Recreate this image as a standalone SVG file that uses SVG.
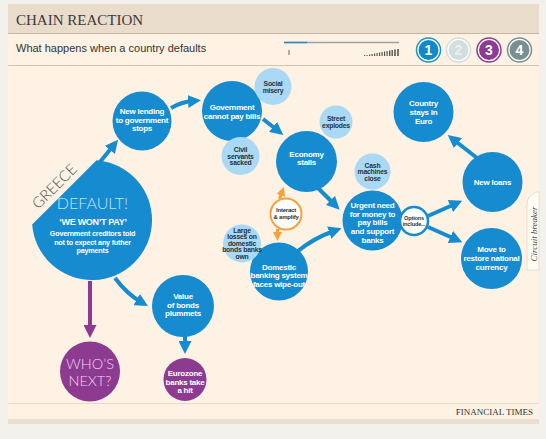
<svg xmlns="http://www.w3.org/2000/svg" width="546" height="439" viewBox="0 0 546 439">
<defs>
<style>
.bl{fill:#168bcf}
.lb{fill:#a9d9f4}
.pu{fill:#8d3b90}
.t{font-family:"Liberation Sans",Arial,sans-serif;font-weight:bold;text-anchor:middle}
.w{fill:#fff;font-size:8px;letter-spacing:-0.25px}
.d{fill:#27323c;font-size:6.8px;letter-spacing:-0.2px}
.lt{font-family:Lato,"Open Sans","Liberation Sans",sans-serif;font-weight:300;text-anchor:middle}
.cb{fill:none;stroke:#168bcf;stroke-width:4}
.cp{fill:none;stroke:#8d3b90;stroke-width:4}
.co{fill:none;stroke:#f6a23a;stroke-width:3}
.num{font-family:"Liberation Sans",Arial,sans-serif;font-weight:bold;font-size:14px;text-anchor:middle;fill:#fff}
</style>
<marker id="ab" markerUnits="userSpaceOnUse" markerWidth="13" markerHeight="13" viewBox="0 0 13 13" refX="5" refY="6.5" orient="auto"><path d="M0,0 L13,6.5 L0,13 z" fill="#168bcf"/></marker>
<marker id="ap" markerUnits="userSpaceOnUse" markerWidth="13" markerHeight="13" viewBox="0 0 13 13" refX="5" refY="6.5" orient="auto"><path d="M0,0 L13,6.5 L0,13 z" fill="#8d3b90"/></marker>
<marker id="ao" markerUnits="userSpaceOnUse" markerWidth="9" markerHeight="9" viewBox="0 0 9 9" refX="3" refY="4.5" orient="auto"><path d="M0,0 L9,4.5 L0,9 z" fill="#f6a23a"/></marker>
</defs>

<rect width="546" height="439" fill="#f3f1ec"/>
<rect x="8" y="419" width="531" height="5" fill="#e8dfd2"/>
<rect x="8" y="4" width="531" height="415" fill="#fdf2e3"/>
<rect x="8" y="4" width="531" height="29.5" fill="#e9dccb"/>
<line x1="8" y1="33.5" x2="539" y2="33.5" stroke="#c9b6a1"/>
<line x1="8" y1="65.5" x2="539" y2="65.5" stroke="#d8c5b0"/>
<line x1="8" y1="403.5" x2="539" y2="403.5" stroke="#ead9c5"/>

<text x="16" y="25" font-family="'Liberation Serif','Times New Roman',serif" font-size="15" fill="#3b3b3b">CHAIN REACTION</text>
<text x="16" y="52" font-family="'Liberation Sans',Arial,sans-serif" font-size="11" fill="#333">What happens when a country defaults</text>
<text x="533" y="415" font-family="'Liberation Serif','Times New Roman',serif" font-size="9" fill="#333" text-anchor="end">FINANCIAL TIMES</text>

<g id="progress">
<line x1="284" y1="42.5" x2="399" y2="42.5" stroke="#9aa3a8" stroke-width="1.5"/>
<line x1="284" y1="42.5" x2="307" y2="42.5" stroke="#2f87c4" stroke-width="1.5"/>
<rect x="288.5" y="50" width="1" height="5" fill="#666"/>
<g fill="#555">
<rect x="364" y="55" width="1.2" height="1"/>
<rect x="366.5" y="55" width="1.2" height="1"/>
<rect x="369" y="54.5" width="1.2" height="1.5"/>
<rect x="371.5" y="54" width="1.2" height="2"/>
<rect x="374" y="53.5" width="1.2" height="2.5"/>
<rect x="376.5" y="53" width="1.2" height="3"/>
<rect x="379" y="52.5" width="1.2" height="3.5"/>
<rect x="381.5" y="52" width="1.2" height="4"/>
<rect x="384" y="51.5" width="1.2" height="4.5"/>
<rect x="386.5" y="51" width="1.2" height="5"/>
<rect x="389" y="50.5" width="1.4" height="5.5"/>
<rect x="391.5" y="50" width="1.4" height="6"/>
<rect x="394.2" y="49.5" width="1.6" height="6.5"/>
<rect x="397.2" y="49" width="1.6" height="7"/>
</g>
</g>

<g id="steps">
<circle cx="428.5" cy="50" r="12" fill="#fff" stroke="#1596c4" stroke-width="1.5"/>
<circle cx="428.5" cy="50" r="10" fill="#1089c9"/>
<text class="num" x="428.5" y="55">1</text>
<circle cx="458.5" cy="50" r="12" fill="#fff" stroke="#d3dddd" stroke-width="1.5"/>
<circle cx="458.5" cy="50" r="10" fill="#d3dddd"/>
<text class="num" x="458.5" y="55" style="fill:#eaf0f0">2</text>
<circle cx="489" cy="50" r="12" fill="#fff" stroke="#8e3a93" stroke-width="1.5"/>
<circle cx="489" cy="50" r="10" fill="#8e3a93"/>
<text class="num" x="489" y="55">3</text>
<circle cx="519.5" cy="50" r="12" fill="#fff" stroke="#7a9090" stroke-width="1.5"/>
<circle cx="519.5" cy="50" r="10" fill="#7a9090"/>
<text class="num" x="519.5" y="55">4</text>
</g>

<g id="circuit-breaker">
<path d="M539,192 L536,192 Q527,196 527,204 L527,270 L539,270 Z" fill="#fffcf6" stroke="#e3d8c8" stroke-width="0.8"/>
<text transform="translate(537,234) rotate(-90)" font-family="'Liberation Serif','Times New Roman',serif" font-style="italic" font-size="9" fill="#444" text-anchor="middle">Circuit breaker</text>
</g>

<g id="connectors">
<path class="cb" d="M100,162 L113,146" marker-end="url(#ab)"/>
<path class="cb" d="M171,108 Q181,102 193,101" marker-end="url(#ab)"/>
<path class="cb" d="M263,119 L277,130" marker-end="url(#ab)"/>
<path class="cb" d="M317,187 L334,204" marker-end="url(#ab)"/>
<path class="cb" d="M298,251 Q314,238 334,231" marker-end="url(#ab)"/>
<path class="cb" d="M115,278 Q127,294 141,302" marker-end="url(#ab)"/>
<path class="cb" d="M185,336 L185,346" marker-end="url(#ab)"/>
<path class="cp" d="M90,281 L90,330" marker-end="url(#ap)"/>
<path class="cb" d="M428,216 L455,204" marker-end="url(#ab)"/>
<path class="cb" d="M428,227 L455,239" marker-end="url(#ab)"/>
<path class="cb" d="M477,158 L454,140" marker-end="url(#ab)"/>
<path class="co" d="M279.5,199 L281.8,192.6" marker-end="url(#ao)"/>
<path class="co" d="M277.5,229 L277.5,235" marker-end="url(#ao)"/>
</g>

<g id="n-default">
<path class="bl" d="M32.2,224.6 L96.6,160.2 A60,60 0 1 1 32.2,224.6 Z"/>
<text class="lt" transform="translate(58,190) rotate(-45)" font-size="15" fill="#555">GREECE</text>
<text class="lt" x="92.5" y="209" font-size="16" fill="#c2e4f7">DEFAULT!</text>
<text class="t" x="93" y="225" font-size="9" fill="#fff" letter-spacing="-0.3">‘WE WON’T PAY’</text>
<text class="t" x="92.5" y="236" font-size="7.2" fill="#fff" letter-spacing="-0.2">Government creditors told</text>
<text class="t" x="92.5" y="244.5" font-size="7.2" fill="#fff" letter-spacing="-0.2">not to expect any futher</text>
<text class="t" x="92.5" y="253" font-size="7.2" fill="#fff" letter-spacing="-0.2">payments</text>
</g>

<g id="n-lending">
<circle class="bl" cx="142" cy="121" r="29.5"/>
<text class="t w" x="142" y="114">New lending</text>
<text class="t w" x="142" y="122.5">to government</text>
<text class="t w" x="142" y="131">stops</text>
</g>

<g id="n-govt">
<circle class="bl" cx="232" cy="111" r="30"/>
<text class="t w" x="232" y="110">Government</text>
<text class="t w" x="232" y="118.5">cannot pay bills</text>
</g>

<g id="n-social">
<circle class="lb" cx="273" cy="86.5" r="18.5"/>
<text class="t d" x="273" y="85.5">Social</text>
<text class="t d" x="273" y="92.5">misery</text>
</g>

<g id="n-civil">
<circle class="lb" cx="240.5" cy="156" r="19"/>
<text class="t d" x="240.5" y="151.8">Civil</text>
<text class="t d" x="240.5" y="158.5">servants</text>
<text class="t d" x="240.5" y="165.2">sacked</text>
</g>

<g id="n-economy">
<circle class="bl" cx="306.5" cy="161.5" r="30.5"/>
<text class="t w" x="306.5" y="156.5">Economy</text>
<text class="t w" x="306.5" y="165">stalls</text>
</g>

<g id="n-street">
<circle class="lb" cx="336" cy="122" r="16.5"/>
<text class="t d" x="336" y="120.8">Street</text>
<text class="t d" x="336" y="128.2">explodes</text>
</g>

<g id="n-urgent">
<circle class="bl" cx="372.5" cy="220.5" r="30"/>
<text class="t w" x="372.5" y="208">Urgent need</text>
<text class="t w" x="372.5" y="216.7">for money to</text>
<text class="t w" x="372.5" y="225.3">pay bills</text>
<text class="t w" x="372.5" y="234">and support</text>
<text class="t w" x="372.5" y="242.6">banks</text>
</g>

<g id="n-cash">
<circle class="lb" cx="372.5" cy="171.5" r="18"/>
<text class="t d" x="372.5" y="167.5">Cash</text>
<text class="t d" x="372.5" y="174.2">machines</text>
<text class="t d" x="372.5" y="181">close</text>
</g>

<g id="n-interact">
<circle cx="286" cy="214" r="15.5" fill="#fff" stroke="#f6a23a" stroke-width="2"/>
<text class="t" x="286" y="211.5" font-size="6" fill="#27323c" letter-spacing="-0.2">Interact</text>
<text class="t" x="286" y="218.5" font-size="6" fill="#27323c" letter-spacing="-0.2">&amp; amplify</text>
</g>

<g id="n-domestic">
<circle class="bl" cx="279" cy="271.5" r="29"/>
<text class="t w" x="279" y="269.5">Domestic</text>
<text class="t w" x="279" y="278">banking system</text>
<text class="t w" x="279" y="286.5">faces wipe-out</text>
</g>

<g id="n-losses">
<circle class="lb" cx="242" cy="243.5" r="19"/>
<text class="t d" x="242" y="233" font-size="6.5">Large</text>
<text class="t d" x="242" y="239.2" font-size="6.5">losses on</text>
<text class="t d" x="242" y="245.6" font-size="6.5">domestic</text>
<text class="t d" x="242" y="252" font-size="6.5">bonds banks</text>
<text class="t d" x="242" y="258.5" font-size="6.5">own</text>
</g>

<g id="n-options">
<circle cx="414" cy="221" r="14" fill="#fff" stroke="#168bcf" stroke-width="2.5"/>
<text class="t" x="414" y="220" font-size="5.6" fill="#27323c" letter-spacing="-0.15">Options</text>
<text class="t" x="414" y="225.8" font-size="5.6" fill="#27323c" letter-spacing="-0.15">include...</text>
</g>

<g id="n-newloans">
<circle class="bl" cx="492.5" cy="182" r="30"/>
<text class="t w" x="492.5" y="184.5">New loans</text>
</g>

<g id="n-move">
<circle class="bl" cx="491.5" cy="258.5" r="30.5"/>
<text class="t w" x="491.5" y="252">Move to</text>
<text class="t w" x="491.5" y="261">restore national</text>
<text class="t w" x="491.5" y="270">currency</text>
</g>

<g id="n-country">
<circle class="bl" cx="423.5" cy="112" r="30"/>
<text class="t w" x="423.5" y="106">Country</text>
<text class="t w" x="423.5" y="115">stays in</text>
<text class="t w" x="423.5" y="124">Euro</text>
</g>

<g id="n-value">
<circle class="bl" cx="183" cy="306" r="31"/>
<text class="t w" x="183" y="299">Value</text>
<text class="t w" x="183" y="307.7">of bonds</text>
<text class="t w" x="183" y="316.3">plummets</text>
</g>

<g id="n-eurozone">
<circle class="pu" cx="185" cy="379.5" r="21.5"/>
<text class="t w" x="185" y="376" font-size="7.5">Eurozone</text>
<text class="t w" x="185" y="384.5" font-size="7.5">banks take</text>
<text class="t w" x="185" y="393" font-size="7.5">a hit</text>
</g>

<g id="n-whos">
<circle class="pu" cx="90" cy="371.5" r="30"/>
<text class="lt" x="90" y="368.5" font-size="14.5" fill="#f0d2f0">WHO’S</text>
<text class="lt" x="90" y="386" font-size="14.5" fill="#f0d2f0">NEXT?</text>
</g>
</svg>
